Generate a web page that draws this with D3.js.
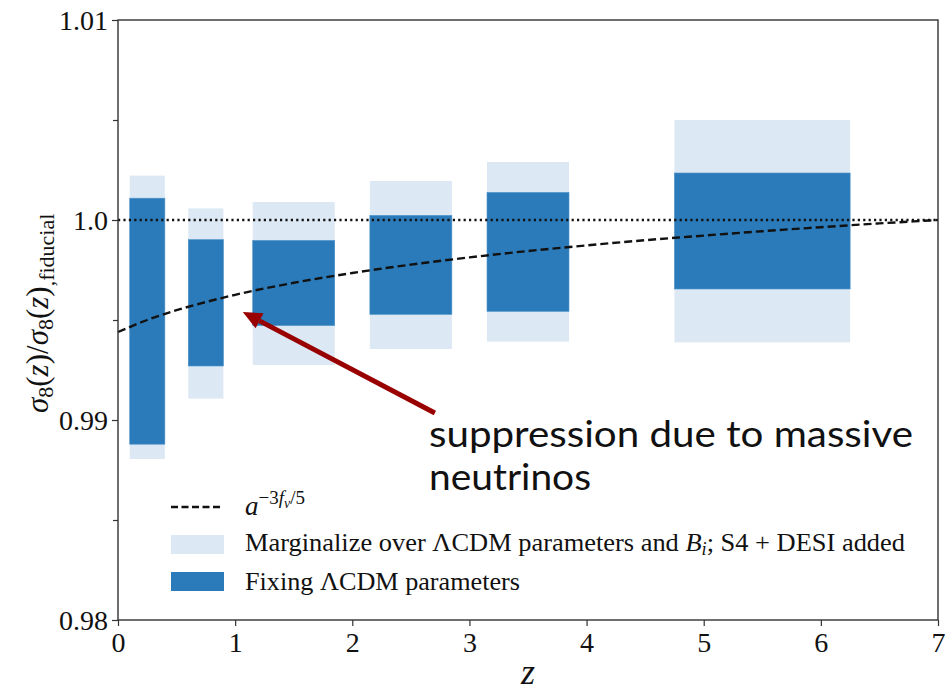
<!DOCTYPE html>
<html>
<head>
<meta charset="utf-8">
<script src="https://cdn.jsdelivr.net/npm/d3@7"></script>
<style>
  html, body { margin: 0; padding: 0; background: #fff; }
  svg { display: block; }
  .serif { font-family: "Liberation Serif", "DejaVu Serif", serif; fill: #111; }
</style>
</head>
<body>
<svg id="chart" width="945" height="692"></svg>
<script>
// Redshift bins (left / right edges)
const binLow  = [0.10, 0.60, 1.15, 2.15, 3.15, 4.75];
const binHigh = [0.40, 0.90, 1.85, 2.85, 3.85, 6.25];

// Marginalized over ΛCDM + B_i (S4 + DESI) : lower / upper bounds
const margLow  = [0.98805, 0.99107, 0.99275, 0.99355, 0.99392, 0.99388];
const margHigh = [1.00222, 1.00058, 1.00090, 1.00195, 1.00290, 1.00500];

// Fixed ΛCDM parameters : lower / upper bounds
const fixLow  = [0.98879, 0.99270, 0.99472, 0.99528, 0.99543, 0.99655];
const fixHigh = [1.00109, 0.99902, 0.99898, 1.00023, 1.00138, 1.00235];

// Growth suppression curve a^{-3 f_nu / 5}, normalized at z = 7
const curveZ   = [0, 0.25, 0.5, 0.75, 1, 1.5, 2, 2.5, 3, 3.5, 4, 4.5, 5, 5.5, 6, 6.5, 7];
const curveVal = [0.99440, 0.99500, 0.99549, 0.99590, 0.99626, 0.99686, 0.99735, 0.99777,
                  0.99813, 0.99845, 0.99873, 0.99899, 0.99922, 0.99944, 0.99964, 0.99983, 1.00000];

// Axis ticks
const xTicks = [0, 1, 2, 3, 4, 5, 6, 7];
const yMajorTicks = [0.98, 0.99, 1.0, 1.01];
const yMajorLabels = ["0.98", "0.99", "1.0", "1.01"];
const yMinorTicks = [0.985, 0.995, 1.005];

// Annotation
const noteLines = ["suppression due to massive", "neutrinos"];
const arrowFrom = [2.705, 0.99035];
const arrowTo   = [1.065, 0.99540];

const colDark = "#2b7bba";
const colLight = "#dce9f5";

const svg = d3.select("#chart");
const L = 118, R = 938, T = 20, B = 620;

const x = d3.scaleLinear().domain([0, 7]).range([L, R]);
const y = d3.scaleLinear().domain([0.98, 1.01]).range([B, T]);

const bins = binLow.map((lo, i) => ({
  lo, hi: binHigh[i],
  mLo: margLow[i], mHi: margHigh[i],
  fLo: fixLow[i], fHi: fixHigh[i]
}));

// Light bands (marginalized)
svg.append("g").selectAll("rect").data(bins).join("rect")
  .attr("x", d => x(d.lo)).attr("width", d => x(d.hi) - x(d.lo))
  .attr("y", d => y(d.mHi)).attr("height", d => y(d.mLo) - y(d.mHi))
  .attr("fill", colLight);

// Dark bands (fixed)
svg.append("g").selectAll("rect").data(bins).join("rect")
  .attr("x", d => x(d.lo)).attr("width", d => x(d.hi) - x(d.lo))
  .attr("y", d => y(d.fHi)).attr("height", d => y(d.fLo) - y(d.fHi))
  .attr("fill", colDark)
  .attr("stroke", "#4f93c8").attr("stroke-width", 0.6);

// Fiducial reference at 1.0
svg.append("line")
  .attr("x1", x(0)).attr("x2", x(7))
  .attr("y1", y(1.0)).attr("y2", y(1.0))
  .attr("stroke", "#111").attr("stroke-width", 2.4)
  .attr("stroke-dasharray", "2.2,3.2");

// Suppression curve
const line = d3.line().x(d => x(d[0])).y(d => y(d[1])).curve(d3.curveMonotoneX);
svg.append("path")
  .datum(curveZ.map((z, i) => [z, curveVal[i]]))
  .attr("d", line)
  .attr("fill", "none").attr("stroke", "#111")
  .attr("stroke-width", 2.4).attr("stroke-dasharray", "8,4");

// Axes frame
const xAxis = d3.axisBottom(x).tickValues(xTicks).tickSize(6).tickFormat(d3.format("d"));
const gx = svg.append("g").attr("transform", `translate(0,${B})`).call(xAxis);
gx.select(".domain").remove();
gx.selectAll("line").attr("stroke", "#333").attr("stroke-width", 1.2);
gx.selectAll("text").attr("class", "serif").attr("font-size", 28).attr("dy", null).attr("y", 32)
  .attr("fill", "#111");

const yAxis = d3.axisLeft(y).tickValues(yMajorTicks).tickSize(6)
  .tickFormat((d, i) => yMajorLabels[i]);
const gy = svg.append("g").attr("transform", `translate(${L},0)`).call(yAxis);
gy.select(".domain").remove();
gy.selectAll("line").attr("stroke", "#333").attr("stroke-width", 1.2);
gy.selectAll("text").attr("class", "serif").attr("font-size", 28).attr("x", -10)
  .attr("dy", "0.34em").attr("fill", "#111");

const gyMinor = svg.append("g").attr("transform", `translate(${L},0)`)
  .call(d3.axisLeft(y).tickValues(yMinorTicks).tickSize(5).tickFormat(""));
gyMinor.select(".domain").remove();
gyMinor.selectAll("line").attr("stroke", "#333").attr("stroke-width", 1.2);

svg.append("rect")
  .attr("x", L).attr("y", T).attr("width", R - L).attr("height", B - T)
  .attr("fill", "none").attr("stroke", "#333").attr("stroke-width", 1.4);

// Axis titles
svg.append("text").attr("class", "serif")
  .attr("x", x(3.5)).attr("y", 684).attr("text-anchor", "middle")
  .attr("font-size", 36).attr("font-style", "italic").text("z");

const yl = svg.append("text").attr("class", "serif")
  .attr("transform", "translate(48,413) rotate(-90)")
  .attr("font-size", 31);
yl.append("tspan").attr("font-style", "italic").text("σ");
yl.append("tspan").attr("font-size", 22).attr("dy", 5).text("8");
yl.append("tspan").attr("dy", -5).text("(");
yl.append("tspan").attr("font-style", "italic").text("z");
yl.append("tspan").text(")/");
yl.append("tspan").attr("font-style", "italic").text("σ");
yl.append("tspan").attr("font-size", 22).attr("dy", 5).text("8");
yl.append("tspan").attr("dy", -5).text("(");
yl.append("tspan").attr("font-style", "italic").text("z");
yl.append("tspan").text(")");
yl.append("tspan").attr("font-size", 22).attr("dy", 6).text(",fiducial");

// Legend
const lg = svg.append("g");
lg.append("line").attr("x1", 171).attr("x2", 223).attr("y1", 507).attr("y2", 507)
  .attr("stroke", "#111").attr("stroke-width", 2.4).attr("stroke-dasharray", "7,3.5");
lg.append("rect").attr("x", 171).attr("y", 535).attr("width", 53).attr("height", 19).attr("fill", colLight);
lg.append("rect").attr("x", 171).attr("y", 572).attr("width", 53).attr("height", 19).attr("fill", colDark);

const t1 = lg.append("text").attr("class", "serif").attr("x", 245).attr("y", 515).attr("font-size", 27);
t1.append("tspan").attr("font-style", "italic").text("a");
t1.append("tspan").attr("font-size", 19).attr("dy", -11).text("−3");
t1.append("tspan").attr("font-size", 19).attr("font-style", "italic").text("f");
t1.append("tspan").attr("font-size", 14).attr("font-style", "italic").attr("dy", 4).text("ν");
t1.append("tspan").attr("font-size", 19).attr("dy", -4).text("/5");

const t2 = lg.append("text").attr("class", "serif").attr("x", 245).attr("y", 551).attr("font-size", 26)
  .attr("textLength", 660).attr("lengthAdjust", "spacingAndGlyphs");
t2.append("tspan").text("Marginalize over ΛCDM parameters and ");
t2.append("tspan").attr("font-style", "italic").text("B");
t2.append("tspan").attr("font-style", "italic").attr("font-size", 18).attr("dy", 4).text("i");
t2.append("tspan").attr("dy", -4).text("; S4 + DESI added");

lg.append("text").attr("class", "serif").attr("x", 245).attr("y", 590).attr("font-size", 26)
  .attr("textLength", 275).attr("lengthAdjust", "spacingAndGlyphs")
  .text("Fixing ΛCDM parameters");

// Annotation arrow
const ax0 = x(arrowFrom[0]), ay0 = y(arrowFrom[1]);
const ax1 = x(arrowTo[0]),   ay1 = y(arrowTo[1]);
const ang = Math.atan2(ay1 - ay0, ax1 - ax0);
const headLen = 19, headHalf = 8.5;
const bx = ax1 - headLen * Math.cos(ang), by = ay1 - headLen * Math.sin(ang);
svg.append("line")
  .attr("x1", ax0).attr("y1", ay0).attr("x2", bx).attr("y2", by)
  .attr("stroke", "#990000").attr("stroke-width", 5);
svg.append("polygon")
  .attr("points", [
    [ax1, ay1],
    [bx + headHalf * Math.sin(ang), by - headHalf * Math.cos(ang)],
    [bx - headHalf * Math.sin(ang), by + headHalf * Math.cos(ang)]
  ].map(p => p.join(",")).join(" "))
  .attr("fill", "#990000");

// Annotation text
const note = svg.append("text")
  .attr("font-family", "Lato, 'Noto Sans', sans-serif")
  .attr("font-size", 37).attr("fill", "#111");
note.append("tspan").attr("x", 429).attr("y", 447).text(noteLines[0])
  .attr("textLength", 484).attr("lengthAdjust", "spacingAndGlyphs");
note.append("tspan").attr("x", 429).attr("y", 490).text(noteLines[1])
  .attr("textLength", 162).attr("lengthAdjust", "spacingAndGlyphs");
</script>
</body>
</html>
